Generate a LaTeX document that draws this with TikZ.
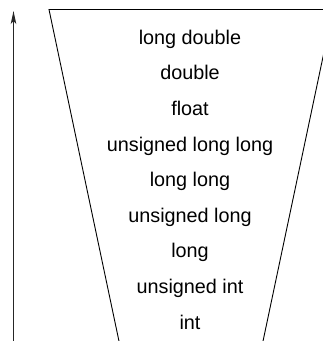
\documentclass[tikz,border=0pt]{standalone}
\usepackage{fontspec}
\setmainfont{Liberation Sans}
\usetikzlibrary{arrows.meta}
\begin{document}
\begin{tikzpicture}[x=1pt,y=-1pt,
  lbl/.style={anchor=base, font=\fontsize{19.8}{24}\selectfont, inner sep=0pt},
  funnel/.style={draw=black, line width=0.9pt, line join=miter},
  axis/.style={draw=black!85, line width=1pt, -{Stealth[length=13pt,width=5.5pt,inset=3pt]}}]
\useasboundingbox (0,0) rectangle (323,341);
\clip (0,0) rectangle (323,341);
\coordinate (bl) at (119.8,345);
\coordinate (tl) at (49,9.5);
\coordinate (tr) at (333,9.5);
\coordinate (br) at (262.2,345);
\draw[funnel] (bl) -- (tl) -- (tr) -- (br);
\coordinate (abot) at (13.5,345);
\coordinate (atop) at (13.5,11);
\draw[axis] (abot) -- (atop);
\node[lbl] (n1) at (190,44) {long double};
\node[lbl] (n2) at (190,79.6) {double};
\node[lbl] (n3) at (190,115.3) {float};
\node[lbl] (n4) at (190,151) {unsigned long long};
\node[lbl] (n5) at (190,186.6) {long long};
\node[lbl] (n6) at (190,222.3) {unsigned long};
\node[lbl] (n7) at (190,257.9) {long};
\node[lbl] (n8) at (190,293.6) {unsigned int};
\node[lbl] (n9) at (190,329.2) {int};
\end{tikzpicture}
\end{document}
